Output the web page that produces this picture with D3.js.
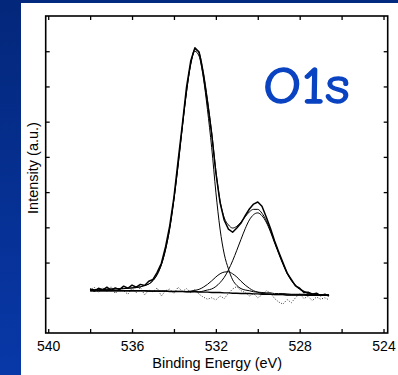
<!DOCTYPE html>
<html>
<head>
<meta charset="utf-8">
<script src="https://cdn.jsdelivr.net/npm/d3@7"></script>
<style>
    html, body { margin: 0; padding: 0; background: #052a7c; overflow: hidden; }
    svg { display: block; }
</style>
</head>
<body>
<svg id="chart"></svg>
<script>
// binding energies (eV), 0.2 eV steps
let energy = [538.0, 537.8, 537.6, 537.4, 537.2, 537.0, 536.8, 536.6, 536.4, 536.2,
    536.0, 535.8, 535.6, 535.4, 535.2, 535.0, 534.8, 534.6, 534.4, 534.2,
    534.0, 533.8, 533.6, 533.4, 533.2, 533.0, 532.8, 532.6, 532.4, 532.2,
    532.0, 531.8, 531.6, 531.4, 531.2, 531.0, 530.8, 530.6, 530.4, 530.2,
    530.0, 529.8, 529.6, 529.4, 529.2, 529.0, 528.8, 528.6, 528.4, 528.2,
    528.0, 527.8, 527.6, 527.4, 527.2, 527.0, 526.8, 526.6];

let rawData = [1.26, 1.19, 1.27, 1.22, 1.30, 1.21, 1.28, 1.23, 1.33, 1.27,
    1.36, 1.30, 1.38, 1.35, 1.47, 1.52, 1.72, 1.98, 2.45, 3.05,
    3.86, 4.90, 5.92, 6.98, 7.72, 8.10, 7.98, 7.35, 6.55, 5.65,
    4.55, 3.70, 3.20, 2.95, 2.86, 2.98, 3.12, 3.33, 3.52, 3.66,
    3.72, 3.60, 3.30, 2.98, 2.62, 2.30, 2.00, 1.70, 1.52, 1.34,
    1.27, 1.15, 1.16, 1.10, 1.13, 1.06, 1.10, 1.05];

let envelope = [1.23, 1.23, 1.24, 1.24, 1.24, 1.25, 1.25, 1.26, 1.26, 1.27,
    1.28, 1.29, 1.31, 1.35, 1.39, 1.49, 1.66, 1.94, 2.37, 2.97,
    3.79, 4.77, 5.84, 6.85, 7.64, 8.05, 7.95, 7.42, 6.62, 5.70,
    4.61, 3.76, 3.27, 3.07, 2.98, 3.03, 3.15, 3.30, 3.44, 3.51,
    3.51, 3.40, 3.20, 2.92, 2.59, 2.28, 1.98, 1.72, 1.51, 1.36,
    1.26, 1.19, 1.14, 1.12, 1.09, 1.09, 1.08, 1.08];

let peakMain = [1.23, 1.23, 1.24, 1.24, 1.24, 1.25, 1.25, 1.26, 1.26, 1.27,
    1.28, 1.29, 1.31, 1.35, 1.39, 1.49, 1.66, 1.94, 2.37, 2.97,
    3.79, 4.77, 5.84, 6.84, 7.62, 8.00, 7.86, 7.26, 6.34, 5.27,
    4.00, 2.95, 2.24, 1.82, 1.51, 1.35, 1.26, 1.22, 1.20, 1.17,
    1.16, 1.15, 1.14, 1.14, 1.12, 1.12, 1.12, 1.11, 1.10, 1.10,
    1.10, 1.10, 1.09, 1.09, 1.08, 1.08, 1.08, 1.08];

let peakLow = [1.20, 1.20, 1.20, 1.20, 1.20, 1.20, 1.20, 1.20, 1.20, 1.20,
    1.20, 1.20, 1.20, 1.20, 1.19, 1.19, 1.19, 1.19, 1.19, 1.18,
    1.18, 1.18, 1.18, 1.17, 1.17, 1.18, 1.17, 1.19, 1.22, 1.25,
    1.32, 1.43, 1.58, 1.79, 2.05, 2.35, 2.66, 2.96, 3.21, 3.36,
    3.41, 3.33, 3.15, 2.88, 2.56, 2.25, 1.95, 1.69, 1.49, 1.34,
    1.24, 1.17, 1.12, 1.10, 1.08, 1.08, 1.07, 1.07];

let peakSmall = [1.20, 1.20, 1.20, 1.20, 1.20, 1.20, 1.20, 1.20, 1.20, 1.20,
    1.20, 1.20, 1.20, 1.20, 1.19, 1.19, 1.19, 1.19, 1.19, 1.18,
    1.18, 1.18, 1.18, 1.18, 1.19, 1.21, 1.24, 1.30, 1.38, 1.48,
    1.59, 1.68, 1.73, 1.74, 1.68, 1.59, 1.47, 1.36, 1.27, 1.20,
    1.16, 1.12, 1.11, 1.10, 1.09, 1.09, 1.09, 1.08, 1.08, 1.08,
    1.08, 1.08, 1.07, 1.07, 1.07, 1.07, 1.07, 1.07];

let background = [1.20, 1.20, 1.20, 1.20, 1.20, 1.20, 1.20, 1.20, 1.20, 1.20,
    1.20, 1.20, 1.20, 1.20, 1.19, 1.19, 1.19, 1.19, 1.19, 1.18,
    1.18, 1.18, 1.18, 1.17, 1.17, 1.17, 1.16, 1.16, 1.16, 1.15,
    1.15, 1.15, 1.14, 1.14, 1.13, 1.13, 1.12, 1.12, 1.12, 1.11,
    1.11, 1.10, 1.10, 1.10, 1.09, 1.09, 1.09, 1.08, 1.08, 1.08,
    1.08, 1.08, 1.07, 1.07, 1.07, 1.07, 1.07, 1.07];

let residual = [1.22, 1.30, 1.15, 1.28, 1.18, 1.32, 1.12, 1.25, 1.20, 1.10,
    1.27, 1.14, 1.30, 1.08, 1.22, 1.17, 1.28, 1.05, 1.20, 1.25,
    1.12, 1.30, 1.18, 1.26, 1.15, 1.24, 1.10, 1.02, 0.96, 1.00,
    0.94, 1.05, 0.98, 1.12, 1.25, 1.32, 1.20, 1.15, 1.05, 1.12,
    1.00, 1.08, 1.20, 1.14, 0.98, 0.88, 0.82, 0.95, 0.86, 1.00,
    1.12, 0.98, 1.04, 0.92, 1.02, 0.96, 1.00, 0.94];

let xTicks = [540, 538, 536, 534, 532, 530, 528, 526, 524];
let xLabels = [540, 536, 532, 528, 524];
let yTicks = [1, 2, 3, 4, 5, 6, 7, 8];

let width = 398;
let height = 375;

let svg = d3.select("#chart")
    .attr("width", width)
    .attr("height", height);

// slide decoration: navy top bar, blue left strip, white panel
let grad = svg.append("defs").append("linearGradient")
    .attr("id", "strip")
    .attr("x1", 0).attr("y1", 0).attr("x2", 0).attr("y2", 1);
grad.append("stop").attr("offset", "0%").attr("stop-color", "#03277a");
grad.append("stop").attr("offset", "100%").attr("stop-color", "#0838a8");

svg.append("rect").attr("x", 0).attr("y", 0).attr("width", width).attr("height", height)
    .attr("fill", "url(#strip)");
svg.append("rect").attr("x", 21).attr("y", 0).attr("width", width - 21).attr("height", 3)
    .attr("fill", "#022a7e");
svg.append("rect").attr("x", 21).attr("y", 3).attr("width", width - 21).attr("height", height - 3)
    .attr("fill", "#ffffff");

let plotLeft = 45.7, plotRight = 387.7, plotTop = 16, plotBottom = 333;

let x = d3.scaleLinear().domain([540.12, 523.8]).range([plotLeft, plotRight]);
let y = d3.scaleLinear().domain([0, 9]).range([plotBottom, plotTop]);

let fmt = function(d) { return xLabels.indexOf(d) >= 0 ? d : ""; };

// axes, ticks pointing inward on all four sides
svg.append("g")
    .attr("transform", "translate(0," + plotBottom + ")")
    .call(d3.axisBottom(x).tickValues(xTicks).tickFormat(fmt).tickSize(-4).tickPadding(7.6))
    .call(function(g) {
        g.select(".domain").remove();
        g.selectAll("line").attr("stroke", "#000").attr("stroke-width", 1.3);
        g.selectAll("text").attr("font-family", "Arial, 'Liberation Sans', sans-serif")
            .attr("font-size", 14).attr("fill", "#000");
    });

svg.append("g")
    .attr("transform", "translate(0," + plotTop + ")")
    .call(d3.axisTop(x).tickValues(xTicks).tickFormat("").tickSize(-4))
    .call(function(g) {
        g.select(".domain").remove();
        g.selectAll("line").attr("stroke", "#000").attr("stroke-width", 1.3);
    });

svg.append("g")
    .attr("transform", "translate(" + plotLeft + ",0)")
    .call(d3.axisLeft(y).tickValues(yTicks).tickFormat("").tickSize(-4))
    .call(function(g) {
        g.select(".domain").remove();
        g.selectAll("line").attr("stroke", "#000").attr("stroke-width", 1.3);
    });

svg.append("g")
    .attr("transform", "translate(" + plotRight + ",0)")
    .call(d3.axisRight(y).tickValues(yTicks).tickFormat("").tickSize(-4))
    .call(function(g) {
        g.select(".domain").remove();
        g.selectAll("line").attr("stroke", "#000").attr("stroke-width", 1.3);
    });

svg.append("rect")
    .attr("x", plotLeft).attr("y", plotTop)
    .attr("width", plotRight - plotLeft).attr("height", plotBottom - plotTop)
    .attr("fill", "none").attr("stroke", "#000").attr("stroke-width", 1.6);

// spectrum curves
function lineOf(values, curve) {
    return d3.line()
        .x(function(d, i) { return x(energy[i]); })
        .y(function(d) { return y(d); })
        .curve(curve)(values);
}

let plot = svg.append("g").attr("fill", "none").attr("stroke", "#000");

plot.append("path").attr("d", lineOf(residual, d3.curveLinear))
    .attr("stroke", "#222").attr("stroke-width", 0.9).attr("stroke-dasharray", "1,1.6");

plot.append("path").attr("d", lineOf(background, d3.curveLinear)).attr("stroke-width", 1.4);
plot.append("path").attr("d", lineOf(peakSmall, d3.curveMonotoneX)).attr("stroke-width", 1);
plot.append("path").attr("d", lineOf(peakLow, d3.curveMonotoneX)).attr("stroke-width", 1);
plot.append("path").attr("d", lineOf(peakMain, d3.curveMonotoneX)).attr("stroke-width", 1);
plot.append("path").attr("d", lineOf(envelope, d3.curveMonotoneX)).attr("stroke-width", 1);
plot.append("path").attr("d", lineOf(rawData, d3.curveLinear)).attr("stroke-width", 1.5)
    .attr("stroke-linejoin", "round");

// labels
svg.append("text")
    .attr("x", (plotLeft + plotRight) / 2 + 0.5)
    .attr("y", 367.5)
    .attr("text-anchor", "middle")
    .attr("font-family", "Arial, 'Liberation Sans', sans-serif")
    .attr("font-size", 14.5)
    .text("Binding Energy (eV)");

svg.append("text")
    .attr("transform", "translate(37.5,168) rotate(-90)")
    .attr("text-anchor", "middle")
    .attr("font-family", "Arial, 'Liberation Sans', sans-serif")
    .attr("font-size", 14.5)
    .text("Intensity (a.u.)");

svg.append("text")
    .attr("x", 263)
    .attr("y", 103)
    .attr("font-family", "'Comic Sans MS', 'Comic Neue', 'DejaVu Sans', sans-serif")
    .attr("font-size", 52)
    .attr("textLength", 87)
    .attr("lengthAdjust", "spacingAndGlyphs")
    .attr("fill", "#0a43c2")
    .attr("stroke", "#0a43c2")
    .attr("stroke-width", 1.3)
    .text("O1s");
</script>
</body>
</html>
